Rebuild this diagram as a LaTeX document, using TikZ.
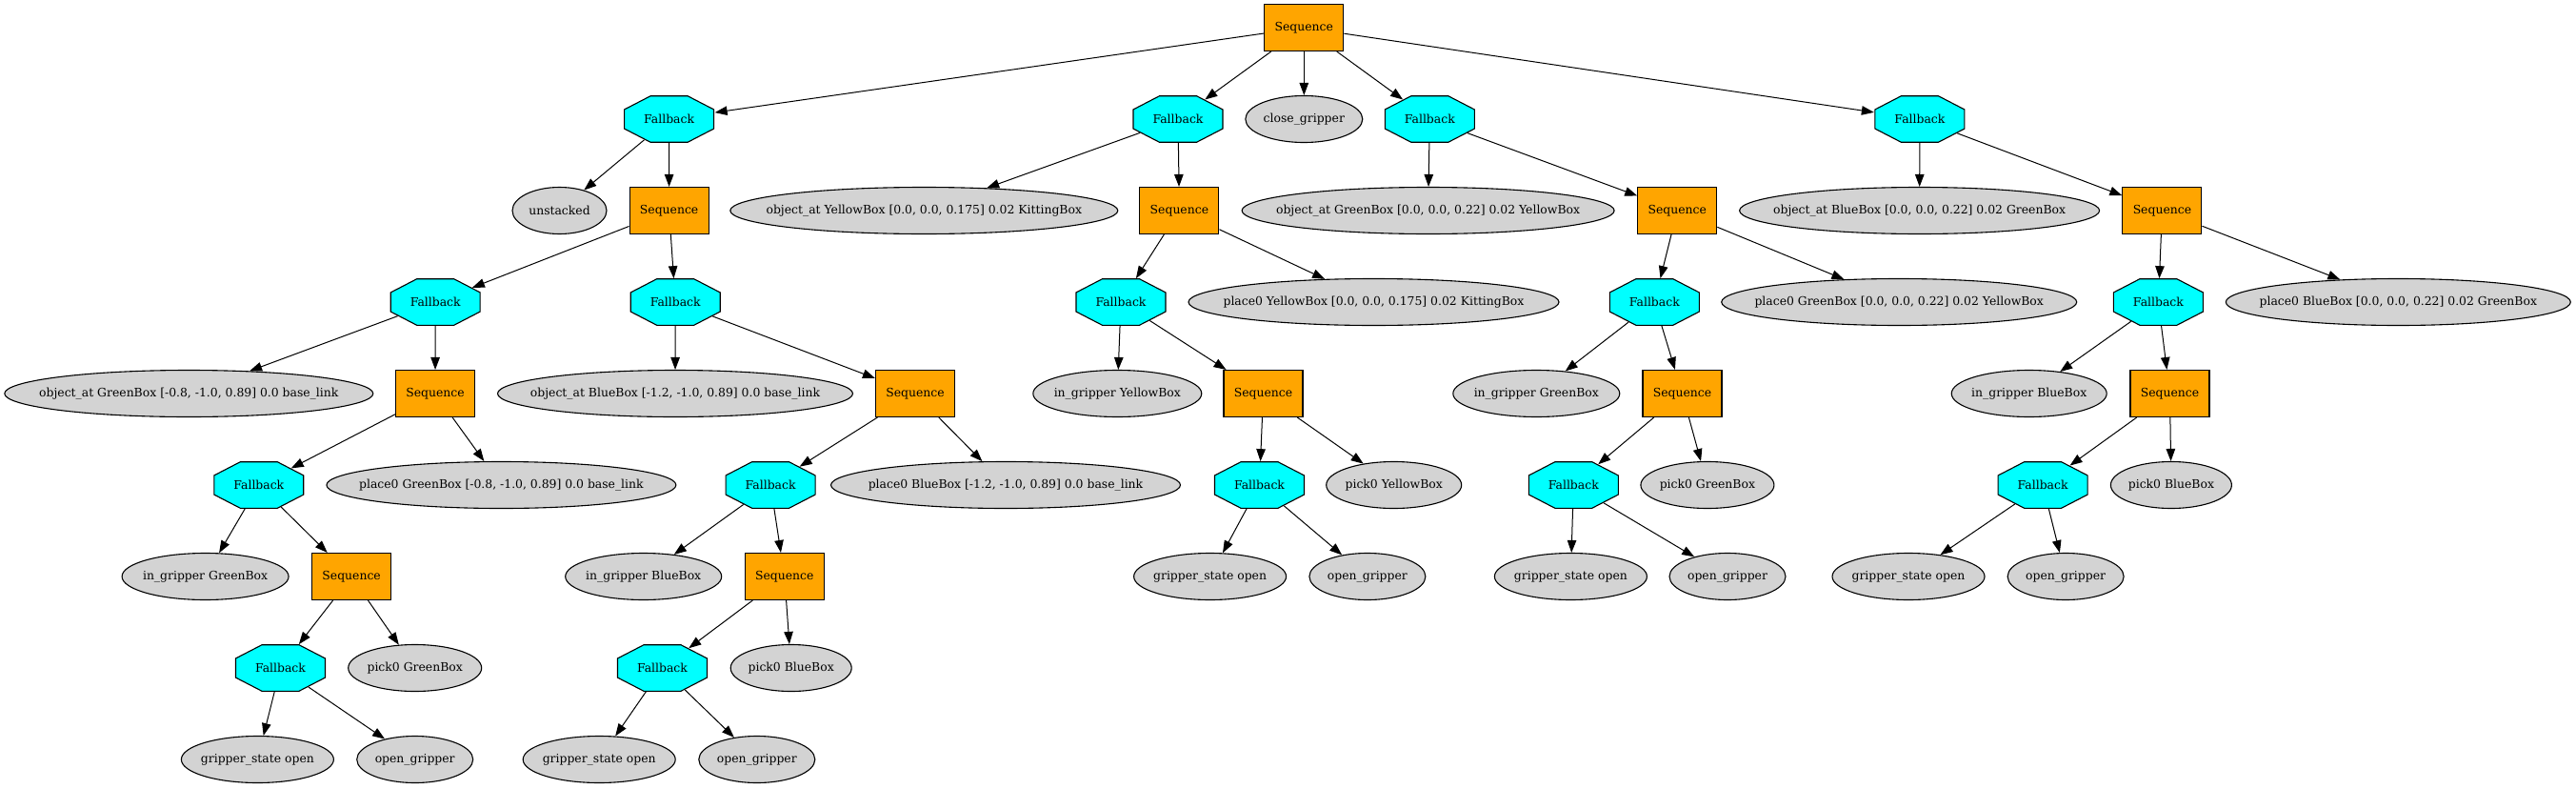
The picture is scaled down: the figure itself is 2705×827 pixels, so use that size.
\documentclass[tikz,border=0pt]{standalone}
\usepackage{fontspec}
\setmainfont{DejaVu Serif}
\usepackage{tikz}
\usetikzlibrary{arrows.meta, shapes.geometric}
\tikzset{>={Triangle[length=13pt,width=9.5pt]}}
\definecolor{seqorange}{RGB}{255,165,0}
\definecolor{fbcyan}{RGB}{0,255,255}
\definecolor{leafgray}{RGB}{211,211,211}
\newcommand{\lf}[1]{\makebox[0pt]{#1}}
\newcommand{\fbtext}{\scalebox{0.517}[1]{Fallback}}

\begin{document}
\begin{tikzpicture}
    [
        x=1pt, y=-1pt,
        seq_node/.style={rectangle, draw=black, fill=seqorange, line width=1.1pt, minimum width=83pt, minimum height=49pt, inner sep=0pt, font=\fontsize{12.4}{14}\selectfont},
        fb_node/.style={regular polygon, regular polygon sides=8, draw=black, fill=fbcyan, line width=1.1pt, minimum size=52.6pt, inner sep=0pt, xscale=1.934, font=\fontsize{12.4}{14}\selectfont},
        leaf_node/.style={ellipse, draw=black, fill=leafgray, line width=1.1pt, minimum width=#1, minimum height=49pt, inner sep=0pt, font=\fontsize{12.4}{14}\selectfont},
        link/.style={->, line width=1pt},
    ]
  \useasboundingbox (0,0) rectangle (2705,827);

  \node[seq_node] (S) at (1369.3,29) {Sequence};

  \node[fb_node] (F1) at (702.6,125) {\fbtext};
  \node[fb_node] (F2) at (1237,125) {\fbtext};
  \node[leaf_node=123pt] (CG) at (1369.3,125) {\lf{close\_gripper}};
  \node[fb_node] (F3) at (1501.3,125) {\fbtext};
  \node[fb_node] (F4) at (2015.9,125) {\fbtext};

  % first branch
  \node[leaf_node=99pt] (U) at (587.5,221) {\lf{unstacked}};
  \node[seq_node] (SA) at (702.6,221) {Sequence};
  \node[fb_node] (FA1) at (457.2,317) {\fbtext};
  \node[fb_node] (FA2) at (709.2,317) {\fbtext};
  \node[leaf_node=387pt] (OA1) at (198.3,413) {\lf{object\_at GreenBox [-0.8, -1.0, 0.89] 0.0 base\_link}};
  \node[seq_node] (SA1) at (457,413) {Sequence};
  \node[leaf_node=373pt] (OA2) at (709,413) {\lf{object\_at BlueBox [-1.2, -1.0, 0.89] 0.0 base\_link}};
  \node[seq_node] (SA2) at (961,413) {Sequence};
  \node[fb_node] (FA3) at (271.8,509) {\fbtext};
  \node[leaf_node=367pt] (PA1) at (526.4,509) {\lf{place0 GreenBox [-0.8, -1.0, 0.89] 0.0 base\_link}};
  \node[fb_node] (FA4) at (809.1,509) {\fbtext};
  \node[leaf_node=367pt] (PA2) at (1056,509) {\lf{place0 BlueBox [-1.2, -1.0, 0.89] 0.0 base\_link}};
  \node[leaf_node=175pt] (IA1) at (215.6,605) {\lf{in\_gripper GreenBox}};
  \node[seq_node] (SA3) at (369.1,605) {Sequence};
  \node[leaf_node=164pt] (IA2) at (675.7,605) {\lf{in\_gripper BlueBox}};
  \node[seq_node] (SA4) at (823.8,605) {Sequence};
  \node[fb_node] (FA5) at (294.5,701) {\fbtext};
  \node[leaf_node=140pt] (KA1) at (435.7,701) {\lf{pick0 GreenBox}};
  \node[fb_node] (FA6) at (695.5,701) {\fbtext};
  \node[leaf_node=127pt] (KA2) at (830.7,701) {\lf{pick0 BlueBox}};
  \node[leaf_node=160pt] (GA1) at (270.4,797) {\lf{gripper\_state open}};
  \node[leaf_node=122pt] (OGA1) at (435.7,797) {\lf{open\_gripper}};
  \node[leaf_node=160pt] (GA2) at (629.2,797) {\lf{gripper\_state open}};
  \node[leaf_node=122pt] (OGA2) at (794.8,797) {\lf{open\_gripper}};

  % second branch
  \node[leaf_node=407pt] (OB) at (970.3,221) {\lf{object\_at YellowBox [0.0, 0.0, 0.175] 0.02 KittingBox}};
  \node[seq_node] (SB) at (1238.4,221) {Sequence};
  \node[fb_node] (FB1) at (1177,317) {\fbtext};
  \node[leaf_node=389pt] (PB) at (1442.5,317) {\lf{place0 YellowBox [0.0, 0.0, 0.175] 0.02 KittingBox}};
  \node[leaf_node=177pt] (IB) at (1173.3,413) {\lf{in\_gripper YellowBox}};
  \node[seq_node] (SB1) at (1326.5,413) {Sequence};
  \node[fb_node] (FB2) at (1322.5,509) {\fbtext};
  \node[leaf_node=142pt] (KB) at (1463.7,509) {\lf{pick0 YellowBox}};
  \node[leaf_node=160pt] (GB) at (1270.6,605) {\lf{gripper\_state open}};
  \node[leaf_node=122pt] (OGB) at (1435.9,605) {\lf{open\_gripper}};

  % third branch
  \node[leaf_node=391pt] (OC) at (1499.6,221) {\lf{object\_at GreenBox [0.0, 0.0, 0.22] 0.02 YellowBox}};
  \node[seq_node] (SC) at (1761.3,221) {Sequence};
  \node[fb_node] (FC1) at (1737.3,317) {\fbtext};
  \node[leaf_node=373pt] (PC) at (1994.2,317) {\lf{place0 GreenBox [0.0, 0.0, 0.22] 0.02 YellowBox}};
  \node[leaf_node=175pt] (IC) at (1613.3,413) {\lf{in\_gripper GreenBox}};
  \node[seq_node] (SC1) at (1766.5,413) {Sequence};
  \node[fb_node] (FC2) at (1652.3,509) {\fbtext};
  \node[leaf_node=140pt] (KC) at (1792.9,509) {\lf{pick0 GreenBox}};
  \node[leaf_node=160pt] (GC) at (1649.4,605) {\lf{gripper\_state open}};
  \node[leaf_node=122pt] (OGC) at (1814,605) {\lf{open\_gripper}};

  % fourth branch
  \node[leaf_node=378pt] (OD) at (2015.6,221) {\lf{object\_at BlueBox [0.0, 0.0, 0.22] 0.02 GreenBox}};
  \node[seq_node] (SD) at (2270.4,221) {Sequence};
  \node[fb_node] (FD1) at (2266.4,317) {\fbtext};
  \node[leaf_node=362pt] (PD) at (2518.3,317) {\lf{place0 BlueBox [0.0, 0.0, 0.22] 0.02 GreenBox}};
  \node[leaf_node=163pt] (ID) at (2130.7,413) {\lf{in\_gripper BlueBox}};
  \node[seq_node] (SD1) at (2278.5,413) {Sequence};
  \node[fb_node] (FD2) at (2145.1,509) {\fbtext};
  \node[leaf_node=127pt] (KD) at (2279.9,509) {\lf{pick0 BlueBox}};
  \node[leaf_node=160pt] (GD) at (2004,605) {\lf{gripper\_state open}};
  \node[leaf_node=122pt] (OGD) at (2169.1,605) {\lf{open\_gripper}};

  \draw[link] (S) -- (F1);
  \draw[link] (S) -- (F2);
  \draw[link] (S) -- (CG);
  \draw[link] (S) -- (F3);
  \draw[link] (S) -- (F4);

  \draw[link] (F1) -- (U);
  \draw[link] (F1) -- (SA);
  \draw[link] (SA) -- (FA1);
  \draw[link] (SA) -- (FA2);
  \draw[link] (FA1) -- (OA1);
  \draw[link] (FA1) -- (SA1);
  \draw[link] (SA1) -- (FA3);
  \draw[link] (SA1) -- (PA1);
  \draw[link] (FA3) -- (IA1);
  \draw[link] (FA3) -- (SA3);
  \draw[link] (SA3) -- (FA5);
  \draw[link] (SA3) -- (KA1);
  \draw[link] (FA5) -- (GA1);
  \draw[link] (FA5) -- (OGA1);
  \draw[link] (FA2) -- (OA2);
  \draw[link] (FA2) -- (SA2);
  \draw[link] (SA2) -- (FA4);
  \draw[link] (SA2) -- (PA2);
  \draw[link] (FA4) -- (IA2);
  \draw[link] (FA4) -- (SA4);
  \draw[link] (SA4) -- (FA6);
  \draw[link] (SA4) -- (KA2);
  \draw[link] (FA6) -- (GA2);
  \draw[link] (FA6) -- (OGA2);

  \draw[link] (F2) -- (OB);
  \draw[link] (F2) -- (SB);
  \draw[link] (SB) -- (FB1);
  \draw[link] (SB) -- (PB);
  \draw[link] (FB1) -- (IB);
  \draw[link] (FB1) -- (SB1);
  \draw[link] (SB1) -- (FB2);
  \draw[link] (SB1) -- (KB);
  \draw[link] (FB2) -- (GB);
  \draw[link] (FB2) -- (OGB);

  \draw[link] (F3) -- (OC);
  \draw[link] (F3) -- (SC);
  \draw[link] (SC) -- (FC1);
  \draw[link] (SC) -- (PC);
  \draw[link] (FC1) -- (IC);
  \draw[link] (FC1) -- (SC1);
  \draw[link] (SC1) -- (FC2);
  \draw[link] (SC1) -- (KC);
  \draw[link] (FC2) -- (GC);
  \draw[link] (FC2) -- (OGC);

  \draw[link] (F4) -- (OD);
  \draw[link] (F4) -- (SD);
  \draw[link] (SD) -- (FD1);
  \draw[link] (SD) -- (PD);
  \draw[link] (FD1) -- (ID);
  \draw[link] (FD1) -- (SD1);
  \draw[link] (SD1) -- (FD2);
  \draw[link] (SD1) -- (KD);
  \draw[link] (FD2) -- (GD);
  \draw[link] (FD2) -- (OGD);
\end{tikzpicture}
\end{document}
